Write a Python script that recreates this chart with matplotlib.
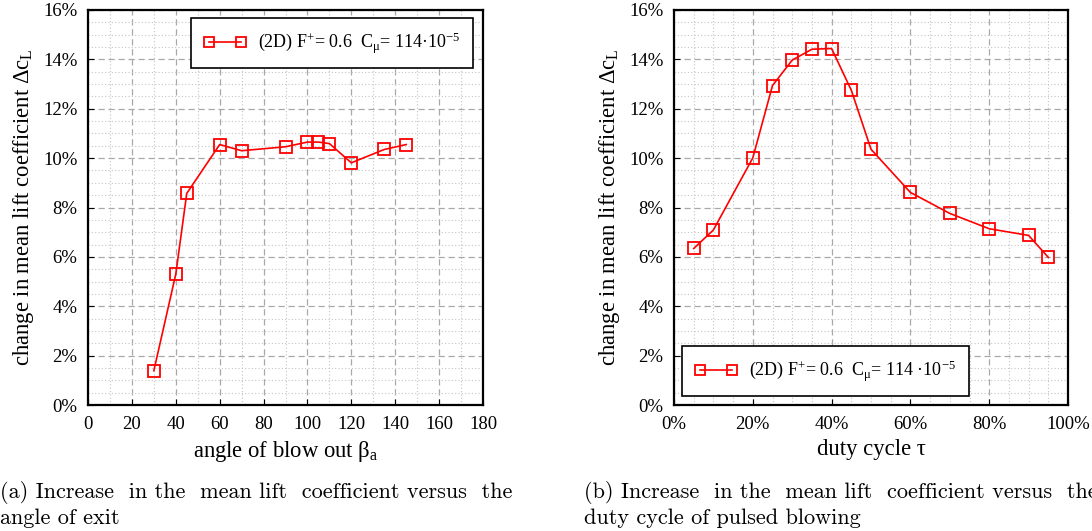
import matplotlib
matplotlib.use("Agg")
import matplotlib.pyplot as plt
from matplotlib.ticker import MultipleLocator, FuncFormatter

# ---- data ----
angle = [30, 40, 45, 60, 70, 90, 100, 105, 110, 120, 135, 145]
dcl_angle = [1.39, 5.30, 8.57, 10.55, 10.30, 10.46, 10.65, 10.65, 10.59, 9.81, 10.35, 10.55]

duty = [5, 10, 20, 25, 30, 35, 40, 45, 50, 60, 70, 80, 90, 95]
dcl_duty = [6.34, 7.09, 10.01, 12.94, 13.97, 14.41, 14.44, 12.75, 10.36, 8.61, 7.76, 7.14, 6.87, 5.98]

legend_a = r"(2D) F$^{+}$= 0.6  C$_{\mathrm{μ}}$= 114·10$^{-5}$"
legend_b = r"(2D) F$^{+}$= 0.6  C$_{\mathrm{μ}}$= 114 ·10$^{-5}$"
ylabel = r"change in mean lift coefficient Δc$_{\mathrm{L}}$"
xlabel_a = r"angle of blow out β$_{\mathrm{a}}$"
xlabel_b = "duty cycle τ"
caption_a = ["(a) Increase  in the  mean lift  coefficient versus  the", "angle of exit"]
caption_b = ["(b) Increase  in the  mean lift  coefficient versus  the", "duty cycle of pulsed blowing"]

plt.rcParams['font.family'] = ['Liberation Serif', 'DejaVu Serif']
plt.rcParams['mathtext.fontset'] = 'custom'
plt.rcParams['mathtext.rm'] = 'Liberation Serif'
plt.rcParams['mathtext.it'] = 'Liberation Serif:italic'

W, H = 1092, 531
fig = plt.figure(figsize=(W / 100, H / 100), dpi=100)

def fx(px):
    return px / W

def fy(py):
    return 1 - py / H

ax1 = fig.add_axes([fx(88), fy(405), fx(483 - 88), (405 - 10) / H])
ax2 = fig.add_axes([fx(674), fy(405), fx(1068 - 674), (405 - 10) / H])

red = '#ff0000'
style = dict(color=red, lw=1.2, marker='s', markersize=8, markerfacecolor='none',
             markeredgecolor=red, markeredgewidth=1.3)

l1, = ax1.plot(angle, dcl_angle, label=legend_a, **style)
l2, = ax2.plot(duty, dcl_duty, label=legend_b, **style)

pct = FuncFormatter(lambda v, p: f"{v:.0f}%")

for ax in (ax1, ax2):
    ax.set_ylim(0, 16)
    ax.yaxis.set_major_locator(MultipleLocator(2))
    ax.yaxis.set_minor_locator(MultipleLocator(0.5))
    ax.yaxis.set_major_formatter(pct)
    ax.grid(which='major', color='#a8a8a8', ls=(0, (5, 3)), lw=0.9)
    ax.grid(which='minor', color='#c4c4c4', ls=(0, (1, 2)), lw=0.8)
    ax.set_axisbelow(True)
    ax.tick_params(which='both', direction='in', labelsize=13.5, length=4, width=0.8)
    ax.tick_params(axis='y', pad=7.5)
    ax.tick_params(axis='x', pad=8)
    ax.tick_params(which='minor', length=0)
    for s in ax.spines.values():
        s.set_linewidth(1.6)
        s.set_color('black')
    ax.set_ylabel(ylabel, fontsize=16.3, labelpad=5)

ax1.set_xlim(0, 180)
ax1.xaxis.set_major_locator(MultipleLocator(20))
ax1.xaxis.set_minor_locator(MultipleLocator(10))
ax1.set_xlabel(xlabel_a, fontsize=16.3, labelpad=4)

ax2.set_xlim(0, 100)
ax2.xaxis.set_major_locator(MultipleLocator(20))
ax2.xaxis.set_minor_locator(MultipleLocator(5))
ax2.xaxis.set_major_formatter(pct)
ax2.set_xlabel(xlabel_b, fontsize=16.3, labelpad=4)

leg_kw = dict(fontsize=13, frameon=True, fancybox=False, edgecolor='black', framealpha=1,
              numpoints=2, handlelength=2.4, borderaxespad=0, borderpad=0.68,
              handletextpad=0.65, markerscale=0.85, bbox_transform=fig.transFigure)
lg1 = ax1.legend(handles=[l1], loc='upper right', bbox_to_anchor=(fx(473), fy(18)), **leg_kw)
lg2 = ax2.legend(handles=[l2], loc='lower left', bbox_to_anchor=(fx(682), fy(396)), **leg_kw)
for lg in (lg1, lg2):
    lg.get_frame().set_linewidth(1.2)

cap_kw = dict(fontsize=16, family='cmr10', va='center', ha='left')
fig.text(fx(0), fy(493), caption_a[0], **cap_kw)
fig.text(fx(0), fy(518), caption_a[1], **cap_kw)
fig.text(fx(584), fy(493), caption_b[0], **cap_kw)
fig.text(fx(584), fy(518), caption_b[1], **cap_kw)

fig.savefig("out.png", dpi=100)
